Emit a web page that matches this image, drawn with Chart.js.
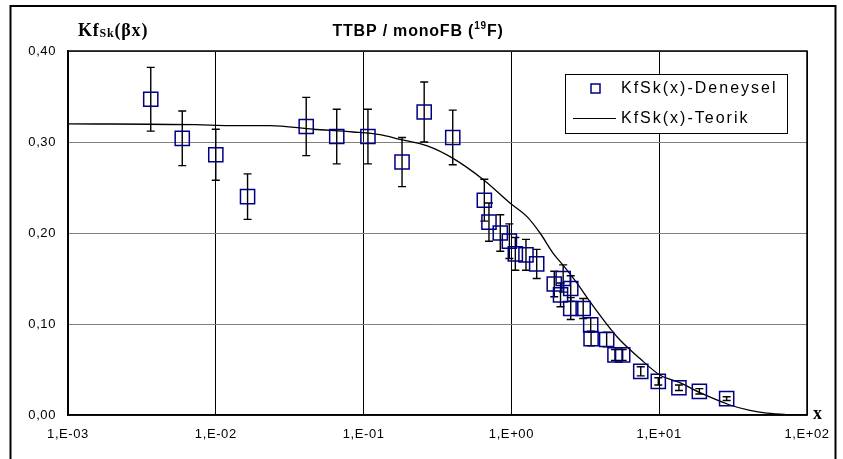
<!DOCTYPE html>
<html><head><meta charset="utf-8">
<script src="https://cdn.jsdelivr.net/npm/chart.js@4.4.1/dist/chart.umd.min.js"></script>
<style>html,body{margin:0;padding:0;background:#fff;overflow:hidden}</style>
</head><body>
<canvas id="c" width="843" height="459"></canvas>
<script>
// Experimental data: x, KfSk value, error (half-length)
const expX   = [0.00363,0.00593,0.0100,0.0164,0.0409,0.0658,0.107,0.182,0.257,0.401,
                0.656,0.705,0.841,0.969,1.063,1.255,1.483,1.95,2.15,2.24,2.52,2.52,3.06,
                3.44,3.46,4.41,5.02,5.66,7.50,9.86,13.6,18.7,28.6];
const expY   = [0.347,0.304,0.286,0.240,0.317,0.306,0.306,0.278,0.333,0.305,
                0.236,0.212,0.200,0.191,0.177,0.176,0.166,0.144,0.132,0.150,0.139,0.117,0.117,
                0.099,0.084,0.083,0.066,0.066,0.048,0.037,0.030,0.026,0.018];
const expErr = [0.035,0.030,0.028,0.025,0.032,0.030,0.030,0.027,0.033,0.030,
                0.023,0.021,0.020,0.019,0.018,0.017,0.016,0.014,0.013,0.015,0.014,0.012,0.011,
                0.008,0.008,0.008,0.006,0.006,0.005,0.004,0.003,0.003,0.002];
// Theoretical curve
const theoX = [0.001,0.00735,0.0124,0.0233,0.0455,0.0848,0.129,0.176,0.267,0.403,0.653,0.978,
               1.275,1.562,1.912,2.306,2.778,3.40,5.18,7.41,10.1,13.8,18.9,30.1,41.1,53.6,73.2,100];
const theoY = [0.320,0.319,0.318,0.318,0.314,0.311,0.308,0.303,0.296,0.282,0.258,0.233,
               0.218,0.200,0.178,0.162,0.145,0.1245,0.086,0.062,0.044,0.0355,0.0245,0.011,0.005,0.002,0.0005,0.0];
const xTickValues = [0.001,0.01,0.1,1,10,100];
const xTickLabels = ['1,E-03','1,E-02','1,E-01','1,E+00','1,E+01','1,E+02'];
const yTickValues = [0,0.1,0.2,0.3,0.4];
const yTickLabels = ['0,00','0,10','0,20','0,30','0,40'];
const seriesNames = ['KfSk(x)-Deneysel','KfSk(x)-Teorik'];

const SANS = '"Liberation Sans", Arial, sans-serif';
const SERIF = '"Liberation Serif", "Times New Roman", serif';

const decor = {
  id: 'decor',
  beforeDraw(chart) {
    chart.ctx.letterSpacing = '0.6px';
  },
  beforeDatasetsDraw(chart) {
    const ctx = chart.ctx, xs = chart.scales.x, ys = chart.scales.y;
    ctx.save();
    ctx.strokeStyle = '#000';
    ctx.lineWidth = 1.4;
    for (let i = 0; i < expX.length; i++) {
      const px = xs.getPixelForValue(expX[i]);
      const top = ys.getPixelForValue(expY[i] + expErr[i]);
      const bot = ys.getPixelForValue(expY[i] - expErr[i]);
      ctx.beginPath();
      ctx.moveTo(px, top); ctx.lineTo(px, bot);
      ctx.moveTo(px - 4, top); ctx.lineTo(px + 4, top);
      ctx.moveTo(px - 4, bot); ctx.lineTo(px + 4, bot);
      ctx.stroke();
    }
    ctx.restore();
  },
  afterDraw(chart) {
    const ctx = chart.ctx, a = chart.chartArea;
    ctx.save();
    // plot frame
    ctx.strokeStyle = '#000';
    ctx.lineWidth = 1.5;
    ctx.strokeRect(a.left, a.top, a.right - a.left, a.bottom - a.top);
    // outer frame
    ctx.lineWidth = 2;
    ctx.strokeRect(10.5, 6, 825, 470);
    // title
    ctx.fillStyle = '#000';
    ctx.textBaseline = 'alphabetic';
    ctx.textAlign = 'left';
    ctx.letterSpacing = '0.8px';
    const p1 = 'TTBP / monoFB (', p2 = '19', p3 = 'F)';
    const fBig = 'bold 16px ' + SANS, fSup = 'bold 10px ' + SANS;
    ctx.font = fBig; const w1 = ctx.measureText(p1).width, w3 = ctx.measureText(p3).width;
    ctx.font = fSup; const w2 = ctx.measureText(p2).width;
    let tx = 418 - (w1 + w2 + w3) / 2;
    const ty = 36;
    ctx.font = fBig; ctx.fillText(p1, tx, ty); tx += w1;
    ctx.font = fSup; ctx.fillText(p2, tx, ty - 7); tx += w2;
    ctx.font = fBig; ctx.fillText(p3, tx, ty);
    // y-axis label Kf_Sk(βx)
    let lx = 78; const ly = 36;
    ctx.letterSpacing = '0.8px';
    ctx.font = 'bold 18px ' + SERIF; ctx.fillText('Kf', lx, ly); lx += ctx.measureText('Kf').width;
    ctx.font = 'bold 12px ' + SERIF; ctx.fillText('Sk', lx, ly + 1); lx += ctx.measureText('Sk').width;
    ctx.font = 'bold 18px ' + SERIF; ctx.fillText('(\u03B2x)', lx, ly);
    // x-axis label
    ctx.font = 'bold 18px ' + SERIF;
    ctx.fillText('x', 813, 419);
    // legend
    const L = {x: 565, y: 74, w: 222, h: 59};
    ctx.fillStyle = '#fff';
    ctx.fillRect(L.x, L.y, L.w, L.h);
    ctx.strokeStyle = '#000';
    ctx.lineWidth = 1;
    ctx.strokeRect(L.x + 0.5, L.y + 0.5, L.w, L.h);
    ctx.strokeStyle = '#000080';
    ctx.lineWidth = 1.5;
    ctx.strokeRect(591, 84, 9, 9);
    ctx.strokeStyle = '#000';
    ctx.lineWidth = 1.2;
    ctx.beginPath(); ctx.moveTo(573, 118.5); ctx.lineTo(616, 118.5); ctx.stroke();
    ctx.fillStyle = '#000';
    ctx.font = '16px ' + SANS;
    ctx.letterSpacing = '2px';
    ctx.textBaseline = 'middle';
    ctx.fillText(seriesNames[0], 621, 89);
    ctx.fillText(seriesNames[1], 621, 119);
    ctx.restore();
  }
};

new Chart(document.getElementById('c'), {
  type: 'scatter',
  data: {
    datasets: [
      {
        label: seriesNames[0],
        data: expX.map((x, i) => ({x, y: expY[i]})),
        pointStyle: 'rect',
        pointRadius: 10,
        pointHoverRadius: 10,
        pointBorderColor: '#000080',
        pointBackgroundColor: 'rgba(0,0,0,0)',
        pointBorderWidth: 1.5,
        showLine: false
      },
      {
        label: seriesNames[1],
        data: theoX.map((x, i) => ({x, y: theoY[i]})),
        showLine: true,
        pointRadius: 0,
        borderColor: '#000',
        borderWidth: 1.3,
        cubicInterpolationMode: 'monotone',
        fill: false
      }
    ]
  },
  options: {
    responsive: false,
    animation: false,
    devicePixelRatio: 1,
    layout: {padding: {top: 51, left: 0, right: 36, bottom: 0}},
    plugins: {legend: {display: false}, title: {display: false}, tooltip: {enabled: false}},
    scales: {
      x: {
        type: 'logarithmic',
        min: 0.001, max: 100,
        afterBuildTicks: s => { s.ticks = xTickValues.map(v => ({value: v})); },
        afterFit: s => { s.height = 44; },
        ticks: {
          autoSkip: false, maxRotation: 0, padding: 12,
          color: '#000',
          font: {family: SANS, size: 13},
          callback: (v, i) => xTickLabels[i]
        },
        grid: {color: '#000', lineWidth: 1, drawTicks: false},
        border: {color: '#000', width: 1.5}
      },
      y: {
        type: 'linear',
        min: 0, max: 0.4,
        afterBuildTicks: s => { s.ticks = yTickValues.map(v => ({value: v})); },
        afterFit: s => { s.width = 68; },
        ticks: {
          padding: 12,
          color: '#000',
          font: {family: SANS, size: 13},
          callback: (v, i) => yTickLabels[i]
        },
        grid: {color: '#808080', lineWidth: 1, drawTicks: false},
        border: {color: '#000', width: 1.5}
      }
    }
  },
  plugins: [decor]
});
</script>
</body></html>
